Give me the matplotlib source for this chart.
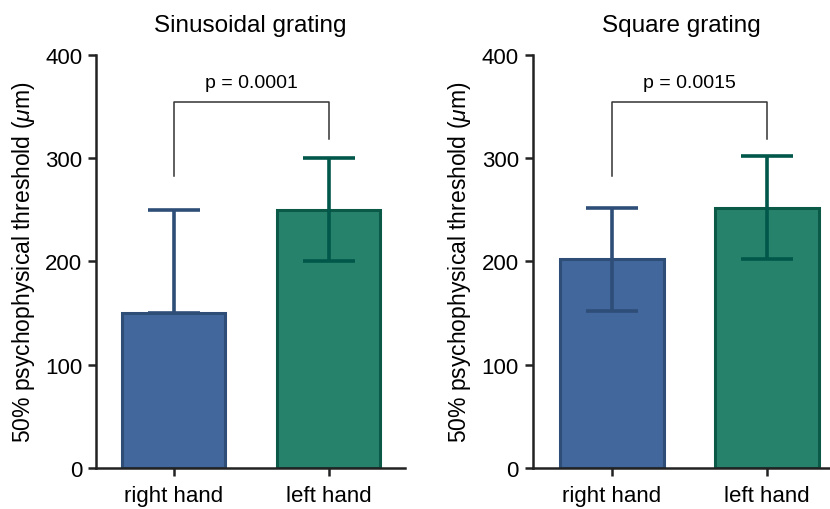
import matplotlib
matplotlib.use('Agg')
import matplotlib.pyplot as plt

plt.rcParams['font.family'] = ['Liberation Sans', 'DejaVu Sans']
plt.rcParams['mathtext.fontset'] = 'custom'
plt.rcParams['mathtext.it'] = 'Liberation Sans:italic'
plt.rcParams['mathtext.rm'] = 'Liberation Sans'

# data
groups = ['right hand', 'left hand']
titles = ['Sinusoidal grating', 'Square grating']
means = [[150, 250], [202, 252]]
err_low = [[0, 50], [50, 50]]
err_high = [[100, 50], [50, 50]]
p_labels = ['p = 0.0001', 'p = 0.0015']
yticks = [0, 100, 200, 300, 400]

fill_colors = ['#41679c', '#27826c']
edge_colors = ['#2e4e77', '#0b5a48']
err_colors = ['#2e4e77', '#00574a']

fig = plt.figure(figsize=(8.3, 5.1), dpi=100)
axes_rect = [[0.1157, 0.0804, 0.372, 0.81], [0.642, 0.0804, 0.358, 0.81]]
xlims = [(-0.503, 1.49), (-0.51, 1.406)]

for k in range(2):
    ax = fig.add_axes(axes_rect[k])
    x = [0, 1]
    ax.bar(x, means[k], width=0.665, color=fill_colors,
           edgecolor=edge_colors, linewidth=2.2, zorder=2)
    for i in range(2):
        ax.errorbar(x[i], means[k][i], yerr=[[err_low[k][i]], [err_high[k][i]]],
                    fmt='none', ecolor=err_colors[i], elinewidth=2.6,
                    capsize=19, capthick=2.6, zorder=3)

    # significance bracket
    ax.plot([0, 0, 1, 1], [283, 354.5, 354.5, 318.5], color='#333333',
            linewidth=1.1, clip_on=False, zorder=4)
    ax.text(0.5, 365, p_labels[k], ha='center', va='bottom', fontsize=14)

    ax.set_xlim(*xlims[k])
    ax.set_ylim(0, 400)
    ax.set_yticks(yticks)
    ax.set_xticks(x)
    ax.set_xticklabels(groups)
    ax.tick_params(axis='both', labelsize=16, width=1.8, length=6,
                   color='#222222')
    ax.tick_params(axis='y', pad=4)
    ax.tick_params(axis='x', pad=6)
    for s in ['top', 'right']:
        ax.spines[s].set_visible(False)
    for s in ['left', 'bottom']:
        ax.spines[s].set_linewidth(1.8)
        ax.spines[s].set_color('#222222')
    ax.set_ylabel(r'50% psychophysical threshold ($\mu$m)', fontsize=16.5,
                  labelpad=6)
    ax.set_title(titles[k], fontsize=17.5, pad=17)

fig.savefig('out.png', dpi=100)
